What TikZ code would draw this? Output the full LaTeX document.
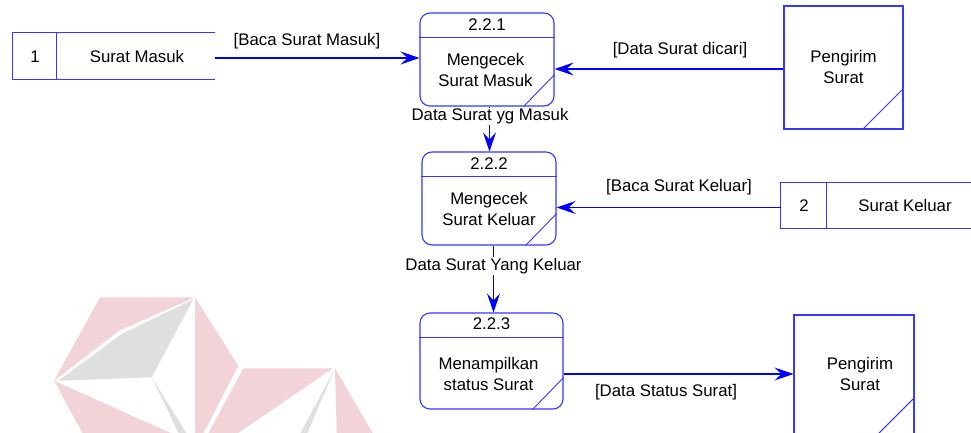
\documentclass[tikz,border=0pt]{standalone}
\usepackage{fontspec}
\setmainfont{Liberation Sans}
\usetikzlibrary{arrows.meta,calc}
\definecolor{boxblue}{RGB}{55,55,255}
\definecolor{flowblue}{RGB}{0,0,255}
\definecolor{wmpink}{RGB}{242,212,216}
\definecolor{wmgray}{RGB}{223,223,223}
\begin{document}
\begin{tikzpicture}[x=1pt,y=-1pt,
  font=\fontsize{16.8}{21}\selectfont,
  outline/.style={draw=boxblue,line width=1.1pt},
  thin/.style={draw=boxblue,line width=0.9pt},
  proc/.style={outline,rounded corners=10pt,inner sep=0pt},
  entity/.style={outline,inner sep=0pt},
  ghost/.style={inner sep=0pt},
  txt/.style={inner sep=0pt,align=center},
  flow/.style={draw=flowblue,line width=1.1pt,
    -{Stealth[length=19pt,width=13pt,inset=7pt]}},
  flowlabel/.style={inner sep=1pt,fill=white}]

% page frame
\clip (0,0) rectangle (971,433);
\fill[white] (0,0) rectangle (971,433);

% faint logo in the background
\fill[wmpink] (100,297.3) -- (195,297.3) -- (119.3,330.7) -- (54,380.7) -- cycle;
\fill[wmgray] (193.3,299.3) -- (121.7,334) -- (58.3,380.7) -- (151.7,377.3) -- cycle;
\fill[wmpink] (195,297.3) -- (238.3,366) -- (203,434) -- (195,434) -- cycle;
\fill[wmgray] (151.7,377.3) -- (187,434) -- (179,434) -- cycle;
\fill[wmpink] (54,380.7) -- (173,434) -- (83,434) -- cycle;
\fill[wmpink] (243.3,368.3) -- (333,368.3) -- (236.7,434) -- (208,434) -- cycle;
\fill[wmgray] (335,368.3) -- (307,434) -- (300,434) -- cycle;
\fill[wmpink] (335,368.3) -- (373.3,434) -- (336.7,434) -- cycle;

% processes
\node[proc,minimum width=134pt,minimum height=93pt] (p1) at (487,59.5) {};
\node[proc,minimum width=134pt,minimum height=93pt] (p2) at (489,198.5) {};
\node[proc,minimum width=143pt,minimum height=96pt] (p3) at (491.5,361) {};
\foreach \p in {p1,p2,p3}{
  \draw[outline] ($(\p.north west)+(0,25)$) -- ($(\p.north east)+(0,25)$);
  \draw[thin] ($(\p.south east)+(0,-32)$) -- ($(\p.south east)+(-31,0)$);
}
\node[txt] (p1n) at (487,24.5) {2.2.1};
\node[txt] (p1t) at (485.5,69.5) {Mengecek\\Surat Masuk};
\node[txt] (p2n) at (489,163.5) {2.2.2};
\node[txt] (p2t) at (489,208.5) {Mengecek\\Surat Keluar};
\node[txt] (p3n) at (491.5,323.5) {2.2.3};
\node[txt] (p3t) at (488.5,374) {Menampilkan\\status Surat};

% external entities
\node[entity,minimum width=119pt,minimum height=123pt] (e1) at (843.5,67.5) {};
\draw[thin] ($(e1.south east)+(0,-41)$) -- ($(e1.south east)+(-41,0)$);
\node[txt] (e1t) at (843.5,66.5) {Pengirim\\Surat};
\node[entity,minimum width=120pt,minimum height=123pt] (e2) at (854,376.5) {};
\draw[thin] ($(e2.south east)+(0,-41)$) -- ($(e2.south east)+(-41,0)$);
\node[txt] (e2t) at (860,374) {Pengirim\\Surat};

% data stores
\node[ghost,minimum width=202pt,minimum height=46pt] (s1) at (114,56) {};
\draw[outline] (s1.north east) -- (s1.north west) -- (s1.south west) -- (s1.south east);
\draw[outline] ($(s1.north west)+(44,0)$) -- ($(s1.south west)+(44,0)$);
\node[txt] (s1n) at (35,56.5) {1};
\node[txt] (s1t) at (137,56.5) {Surat Masuk};

\node[ghost,minimum width=219pt,minimum height=45pt] (s2) at (890.5,205.5) {};
\draw[outline] (s2.north east) -- (s2.north west) -- (s2.south west) -- (s2.south east);
\draw[outline] ($(s2.north west)+(46,0)$) -- ($(s2.south west)+(46,0)$);
\node[txt] (s2n) at (804,205.5) {2};
\node[txt] (s2t) at (905,205.5) {Surat Keluar};

% data flows
\coordinate (f1) at (0,58);
\coordinate (f2) at (0,69);
\coordinate (f3) at (489.5,0);
\coordinate (f4) at (0,207.5);
\coordinate (f5) at (493.5,0);
\coordinate (f6) at (0,374);

\draw[flow] (f1 -| s1.east) -- (f1 -| p1.west);
\node[txt] (l1) at (307,41.5) {[Baca Surat Masuk]};

\draw[flow] (f2 -| e1.west) -- (f2 -| p1.east);
\node[txt] (l2) at (680,50.5) {[Data Surat dicari]};

\draw[flow] (f3 |- p1.south) -- (f3 |- p2.north);
\node[flowlabel] (l3) at (490,116.5) {Data Surat yg Masuk};

\draw[flow] (f4 -| s2.west) -- (f4 -| p2.east);
\node[txt] (l4) at (679,187.5) {[Baca Surat Keluar]};

\draw[flow] (f5 |- p2.south) -- (f5 |- p3.north);
\node[flowlabel] (l5) at (493.5,266) {Data Surat Yang Keluar};

\draw[flow] (f6 -| p3.east) -- (f6 -| e2.west);
\node[txt] (l6) at (666,392) {[Data Status Surat]};
\end{tikzpicture}
\end{document}
